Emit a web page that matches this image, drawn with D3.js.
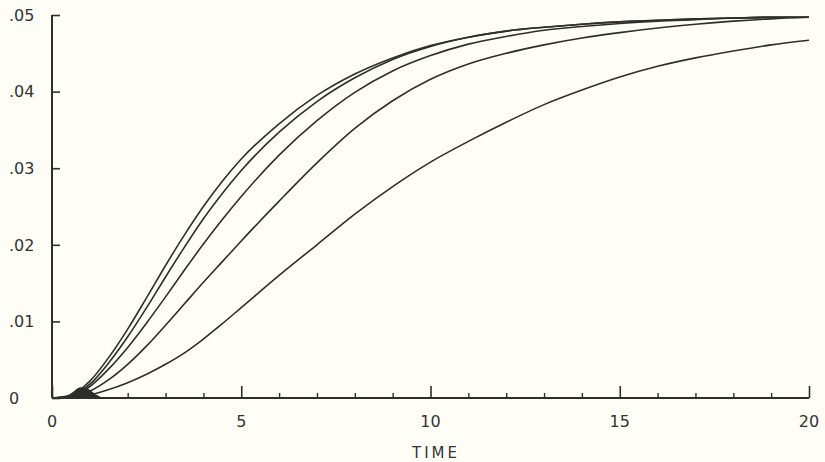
<!DOCTYPE html>
<html>
<head>
<meta charset="utf-8">
<script src="https://cdn.jsdelivr.net/npm/d3@7"></script>
<style>
  html, body { margin: 0; padding: 0; background: #fefef7; }
  svg { display: block; }
  text { font-family: "DejaVu Sans", sans-serif; fill: #333; }
</style>
</head>
<body>
<svg id="chart" width="825" height="462"></svg>
<script>
// ---- data ----
const times = [0, 0.5, 1, 1.5, 2, 2.5, 3, 3.5, 4, 4.5, 5, 6, 7, 8, 9, 10, 11, 12, 13, 14, 15, 16, 17, 18, 19, 20];
const series1 = [0, 0.0004, 0.0022, 0.0053, 0.0090, 0.0131, 0.0173, 0.0213, 0.0250, 0.0283, 0.0312, 0.0358, 0.0395, 0.0423, 0.0444, 0.0460, 0.0471, 0.0479, 0.0484, 0.0488, 0.0491, 0.0493, 0.0495, 0.0496, 0.0497, 0.0497];
const series2 = [0, 0.0003, 0.0018, 0.0046, 0.0080, 0.0118, 0.0158, 0.0197, 0.0234, 0.0267, 0.0297, 0.0347, 0.0387, 0.0418, 0.0442, 0.0459, 0.0471, 0.0479, 0.0484, 0.0488, 0.0491, 0.0493, 0.0495, 0.0496, 0.0497, 0.0497];
const series3 = [0, 0.0002, 0.0015, 0.0038, 0.0066, 0.0098, 0.0132, 0.0167, 0.0201, 0.0233, 0.0263, 0.0317, 0.0362, 0.0399, 0.0427, 0.0447, 0.0462, 0.0472, 0.0480, 0.0485, 0.0489, 0.0492, 0.0494, 0.0496, 0.0497, 0.0497];
const series4 = [0, 0.0001, 0.0009, 0.0024, 0.0044, 0.0068, 0.0095, 0.0123, 0.0151, 0.0178, 0.0205, 0.0257, 0.0307, 0.0352, 0.0388, 0.0416, 0.0436, 0.0450, 0.0461, 0.0470, 0.0477, 0.0483, 0.0488, 0.0492, 0.0495, 0.0497];
const series5 = [0, 0.0000, 0.0004, 0.0011, 0.0020, 0.0031, 0.0044, 0.0059, 0.0077, 0.0097, 0.0118, 0.0160, 0.0200, 0.0240, 0.0276, 0.0308, 0.0335, 0.0360, 0.0383, 0.0402, 0.0419, 0.0433, 0.0444, 0.0453, 0.0461, 0.0467];
// outline of the dark overlap blob where the curves bunch near the origin
const blobTimes = [0.25, 0.5, 0.75, 0.95, 1.15, 1.35];
const blobValues = [0, 0.0006, 0.0014, 0.0012, 0.0005, 0];
const xMajorTicks = [0, 5, 10, 15, 20];
const xMinorTicks = [1, 2, 3, 4, 6, 7, 8, 9, 11, 12, 13, 14, 16, 17, 18, 19];
const yTicks = [0, 0.01, 0.02, 0.03, 0.04, 0.05];
const yTickLabels = ["0", ".01", ".02", ".03", ".04", ".05"];
const xTickLabels = ["0", "5", "10", "15", "20"];
const xTitle = "TIME";

// ---- layout ----
const svg = d3.select("#chart");
const x = d3.scaleLinear().domain([0, 20]).range([52, 809]);
const y = d3.scaleLinear().domain([0, 0.05]).range([398, 15]);
const ink = "#2e2e2a";

// blob near origin
svg.append("path")
  .attr("d", d3.area()
    .x((t) => x(t))
    .y0(y(0))
    .y1((t, i) => y(blobValues[i]))
    .curve(d3.curveMonotoneX)(blobTimes))
  .attr("fill", ink);

// curves
const allSeries = [series1, series2, series3, series4, series5];
const line = d3.line()
  .x(d => x(d[0]))
  .y(d => y(d[1]))
  .curve(d3.curveMonotoneX);
svg.append("g").selectAll("path")
  .data(allSeries)
  .join("path")
  .attr("d", s => line(times.map((t, i) => [t, s[i]])))
  .attr("fill", "none")
  .attr("stroke", ink)
  .attr("stroke-width", 1.6)
  .attr("stroke-linejoin", "round");

// x axis: major ticks (up) + minor ticks (up)
const xAxisMajor = d3.axisBottom(x).tickValues(xMajorTicks).tickSize(-12).tickFormat("");
const gx = svg.append("g").attr("transform", `translate(0,${y(0)})`).call(xAxisMajor);
gx.select(".domain").remove();
gx.selectAll(".tick line").attr("stroke", ink).attr("stroke-width", 1.6);
const xAxisMinor = d3.axisBottom(x).tickValues(xMinorTicks).tickSize(-5).tickFormat("");
const gxm = svg.append("g").attr("transform", `translate(0,${y(0)})`).call(xAxisMinor);
gxm.select(".domain").remove();
gxm.selectAll(".tick line").attr("stroke", ink).attr("stroke-width", 1.4);

svg.append("line")
  .attr("x1", x(0)).attr("x2", x(20))
  .attr("y1", y(0)).attr("y2", y(0))
  .attr("stroke", ink).attr("stroke-width", 2);

// x tick labels
svg.append("g").selectAll("text")
  .data(xMajorTicks)
  .join("text")
  .attr("x", d => x(d))
  .attr("y", 427)
  .attr("text-anchor", "middle")
  .attr("font-size", 16)
  .text((d, i) => xTickLabels[i]);

// x title
svg.append("text")
  .attr("x", 436)
  .attr("y", 458)
  .attr("text-anchor", "middle")
  .attr("font-size", 15)
  .attr("letter-spacing", "3px")
  .text(xTitle);

// y axis: ticks pointing right
const yAxis = d3.axisLeft(y).tickValues(yTicks).tickSize(-8).tickFormat("");
const gy = svg.append("g").attr("transform", `translate(${x(0)},0)`).call(yAxis);
gy.select(".domain").remove();
gy.selectAll(".tick line").attr("stroke", ink).attr("stroke-width", 1.6);
svg.append("line")
  .attr("x1", x(0)).attr("x2", x(0))
  .attr("y1", y(0.05)).attr("y2", y(0))
  .attr("stroke", ink).attr("stroke-width", 2);

// y tick labels (left aligned)
svg.append("g").selectAll("text")
  .data(yTicks)
  .join("text")
  .attr("x", 9)
  .attr("y", d => y(d))
  .attr("dy", "0.36em")
  .attr("text-anchor", "start")
  .attr("font-size", 16)
  .text((d, i) => yTickLabels[i]);
</script>
</body>
</html>
